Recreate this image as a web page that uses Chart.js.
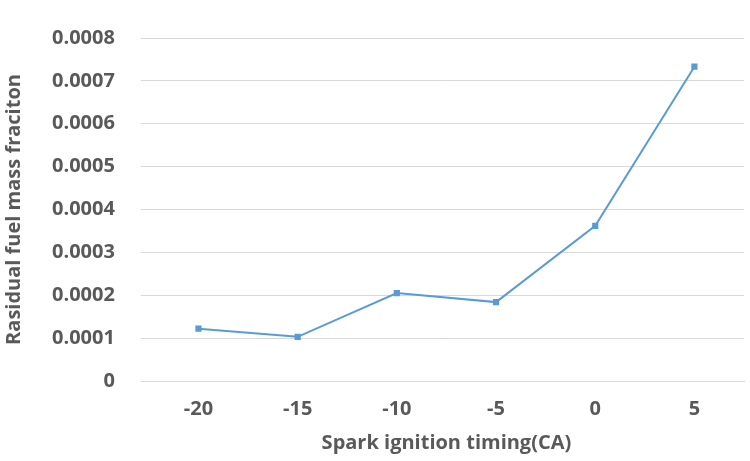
<!DOCTYPE html>
<html><head><meta charset="utf-8">
<script src="https://cdn.jsdelivr.net/npm/chart.js@4"></script>
<style>html,body{margin:0;padding:0;background:#fff}#w{width:750px;height:461px}</style>
</head><body><div id="w"><canvas id="c"></canvas></div>
<script>
const categories = ["-20","-15","-10","-5","0","5"];
const residual = [0.000122,0.000103,0.000205,0.000184,0.000362,0.000733];
const yTicks = [0,0.0001,0.0002,0.0003,0.0004,0.0005,0.0006,0.0007,0.0008];
const font = {family:"'Open Sans', sans-serif", size:20, weight:"bold"};
new Chart(document.getElementById('c'),{
 type:'line',
 data:{labels:categories,datasets:[{data:residual,borderColor:'#5b9bd5',backgroundColor:'#5b9bd5',borderWidth:2,pointStyle:'rect',pointRadius:3,tension:0}]},
 options:{responsive:true,maintainAspectRatio:false,animation:false,
  layout:{padding:{top:0,right:4,left:2,bottom:6}},
  plugins:{legend:{display:false},tooltip:{enabled:false}},
  scales:{
   x:{offset:true,grid:{display:false},border:{color:'#d9d9d9'},ticks:{color:'#595959',font,padding:8},
      title:{display:true,text:'Spark ignition timing(CA)',color:'#595959',font,padding:{top:2,bottom:0}}},
   y:{min:0,max:0.0008,afterBuildTicks:a=>{a.ticks=yTicks.map(v=>({value:v}))},
      grid:{color:'#d9d9d9'},border:{display:false},
      ticks:{color:'#595959',font,padding:26,callback:v=>String(Number(v.toFixed(4)))},
      title:{display:true,text:'Rasidual fuel mass fraciton',color:'#595959',font,padding:{top:0,bottom:0}}}
  }}
});
</script></body></html>
